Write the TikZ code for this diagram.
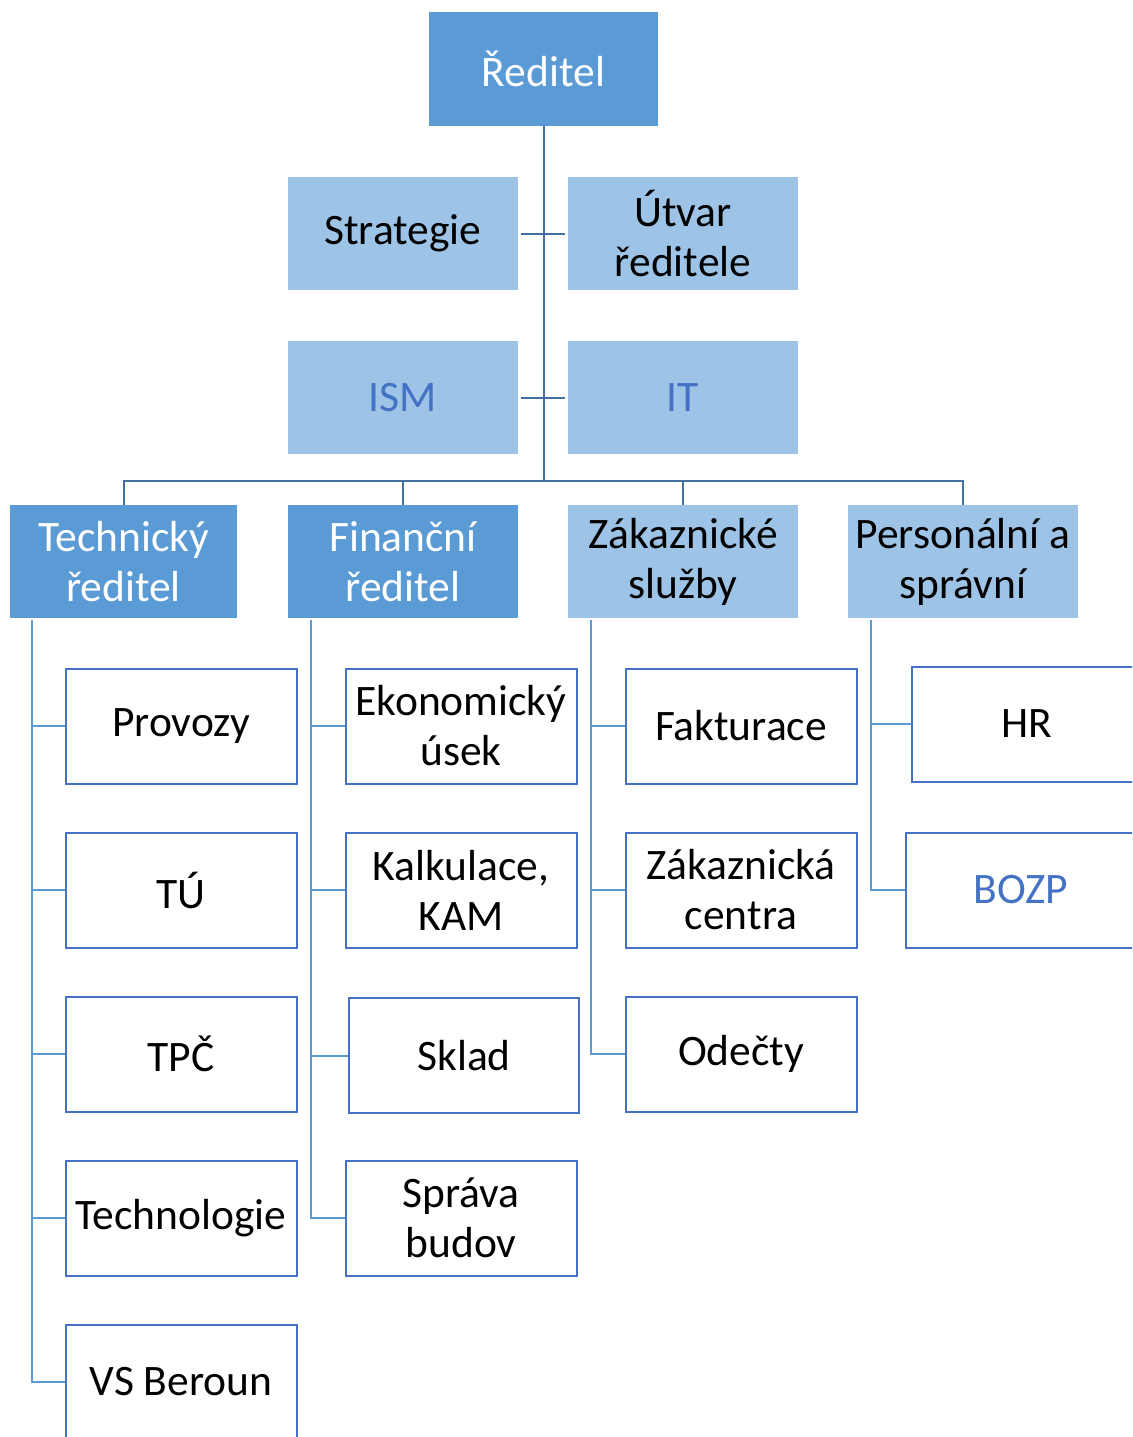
\documentclass[tikz,border=0pt]{standalone}
\usepackage{fontspec}
\setmainfont{Carlito}
\definecolor{dkbox}{HTML}{5B9BD5}
\definecolor{ltbox}{HTML}{9DC3E6}
\definecolor{topline}{HTML}{41719C}
\definecolor{lowline}{HTML}{5B9BD5}
\definecolor{edge}{HTML}{4472C4}
\definecolor{bluetext}{HTML}{4472C4}
\tikzset{
  base/.style={rectangle, inner sep=0pt, align=center, font=\fontsize{43.5}{50}\selectfont},
  dark/.style={base, fill=dkbox, text=white, minimum width=229pt, minimum height=113pt},
  light/.style={base, fill=ltbox, text=black, minimum width=230pt, minimum height=113pt},
  leaf/.style={base, draw=edge, line width=2pt, fill=white, text=black, minimum width=231pt, minimum height=115pt},
  bluet/.style={text=bluetext},
  topconn/.style={draw=topline, line width=2pt},
  lowconn/.style={draw=lowline, line width=2pt},
}
\begin{document}
\begin{tikzpicture}[x=1pt,y=-1pt]
\useasboundingbox (0,0) rectangle (1132,1437);
\clip (0,0) rectangle (1132,1437);
\fill[white] (0,0) rectangle (1132,1437);
% top level
\node[dark] (red) at (543.5,69) {Ředitel};
\node[light] (strat) at (403,233.5) {Strategie};
\node[light] (utvar) at (683,233.5) {Útvar\\ředitele};
\node[light, bluet] (ism) at (403,397.5) {ISM};
\node[light, bluet] (it) at (683,397.5) {IT};
% second level
\node[dark, minimum width=227pt] (tech) at (123.5,561.5) {Technický\\ředitel};
\node[dark, minimum width=230pt] (fin) at (403,561.5) {Finanční\\ředitel};
\node[light] (zak) at (683,561.5) {Zákaznické\\služby};
\node[light] (pers) at (963,561.5) {Personální a\\správní};
% leaves
\node[leaf] (prov) at (181,726) {Provozy};
\node[leaf] (tu) at (181,890) {TÚ};
\node[leaf] (tpc) at (181,1054) {TPČ};
\node[leaf] (techn) at (181,1218) {Technologie};
\node[leaf] (vs) at (181,1382) {VS Beroun};
\node[leaf] (eko) at (461,726) {Ekonomický\\úsek};
\node[leaf] (kalk) at (461,890) {Kalkulace,\\KAM};
\node[leaf, minimum width=230pt] (sklad) at (464,1055.5) {Sklad};
\node[leaf] (sprava) at (461,1218) {Správa\\budov};
\node[leaf] (fakt) at (741,726) {Fakturace};
\node[leaf] (zc) at (741,890) {Zákaznická\\centra};
\node[leaf] (odec) at (741,1054) {Odečty};
\node[leaf] (hr) at (1027,724) {HR};
\node[leaf, bluet] (bozp) at (1021,890) {BOZP};
% top connectors
\coordinate (bar) at (543.5,481);
\path[topconn] (red.south) -- (red.south |- bar);
\path[topconn] (tech.north) -- (tech.north |- bar) -- (pers.north |- bar) -- (pers.north);
\path[topconn] (fin.north) -- (fin.north |- bar);
\path[topconn] (zak.north) -- (zak.north |- bar);
\path[topconn, shorten <=3pt, shorten >=3pt] (strat.east) -- (utvar.west);
\path[topconn, shorten <=3pt, shorten >=3pt] (ism.east) -- (it.west);
% lower connectors
\coordinate (t0) at ([xshift=22pt, yshift=-2pt]tech.south west);
\coordinate (f0) at ([xshift=23pt, yshift=-2pt]fin.south west);
\coordinate (z0) at ([xshift=23pt, yshift=-2pt]zak.south west);
\coordinate (p0) at ([xshift=23pt, yshift=-2pt]pers.south west);
\path[lowconn] (t0) |- (vs.west);
\path[lowconn] (prov.west) -- (prov.west -| t0);
\path[lowconn] (tu.west) -- (tu.west -| t0);
\path[lowconn] (tpc.west) -- (tpc.west -| t0);
\path[lowconn] (techn.west) -- (techn.west -| t0);
\path[lowconn] (f0) |- (sprava.west);
\path[lowconn] (eko.west) -- (eko.west -| f0);
\path[lowconn] (kalk.west) -- (kalk.west -| f0);
\path[lowconn] (sklad.west) -- (sklad.west -| f0);
\path[lowconn] (z0) |- (odec.west);
\path[lowconn] (fakt.west) -- (fakt.west -| z0);
\path[lowconn] (zc.west) -- (zc.west -| z0);
\path[lowconn] (p0) |- (bozp.west);
\path[lowconn] (hr.west) -- (hr.west -| p0);
\end{tikzpicture}
\end{document}
